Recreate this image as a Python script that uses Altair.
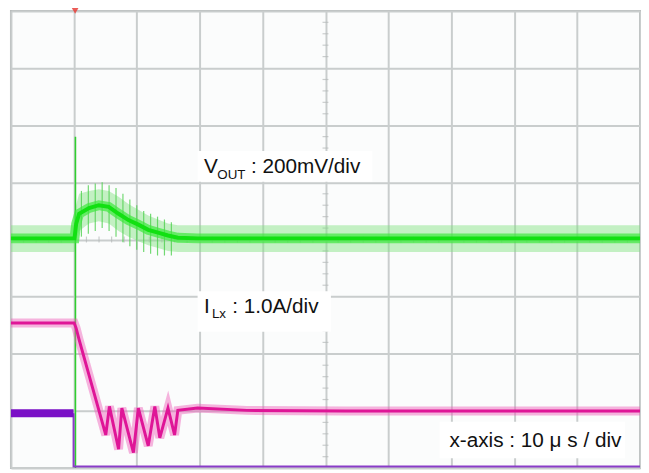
import altair as alt
import pandas as pd

# ---- data (x: time in microseconds, 10 us/div; y: screen divisions 0..8) ----
green_t = [0, 10.1, 10.36, 10.83, 12.4, 13.97, 15.54, 17.11, 18.68, 20.25, 21.82, 23.39, 24.96, 26.53, 29.7, 100]
green_v = [4.02, 4.02, 4.27, 4.45, 4.55, 4.60, 4.57, 4.45, 4.34, 4.26, 4.17, 4.12, 4.07, 4.03, 4.02, 4.02]
green_hi = [4.25, 4.25, 4.60, 4.80, 4.85, 4.88, 4.85, 4.75, 4.62, 4.52, 4.42, 4.35, 4.28, 4.25, 4.25, 4.25]
green_lo = [3.78, 3.78, 4.00, 4.15, 4.28, 4.32, 4.28, 4.15, 4.05, 3.97, 3.90, 3.85, 3.80, 3.78, 3.78, 3.78]
spike_t = [10.25]
spike_top = [5.8]
# ringing spikes on VOUT after the load step
ring_t = [11.2, 12.3, 13.4, 14.5, 15.6, 16.7, 17.8, 18.9, 20.0, 21.1, 22.2, 23.3, 24.4, 25.5]
ring_hi = [4.85, 4.95, 4.98, 5.0, 4.95, 4.9, 4.8, 4.7, 4.6, 4.5, 4.45, 4.4, 4.35, 4.3]
ring_lo = [4.05, 4.1, 4.15, 4.2, 4.15, 4.05, 3.95, 3.88, 3.82, 3.78, 3.75, 3.72, 3.72, 3.72]

mag_t = [0, 10.05, 10.36, 10.83, 15.07, 15.65, 17.11, 17.63, 19.47, 20.25, 21.82, 22.87, 23.66, 24.96, 26.01, 26.53, 29.67, 37.5, 53.2, 68.9, 100]
mag_v = [2.54, 2.54, 2.45, 2.25, 0.58, 1.08, 0.33, 1.05, 0.27, 1.05, 0.39, 1.08, 0.53, 1.05, 0.58, 1.01, 1.05, 1.01, 1.00, 1.00, 1.00]

purple_pre_t = [0, 9.95]
purple_pre_v = [0.96, 0.96]
purple_post_t = [9.95, 9.95, 100]
purple_post_v = [0.96, 0.03, 0.03]

trig_t = [10.2]
grid_x = list(range(0, 101, 10))
grid_y = list(range(0, 9))
center_ticks_y = [i / 5 for i in range(1, 40) if i % 5 != 0]
center_ticks_x = [i * 2 for i in range(1, 50) if i % 5 != 0]

label_v_main = "V"
label_v_sub = "OUT"
label_v_rest = ": 200mV/div"
label_i_main = "I"
label_i_sub = "Lx"
label_i_rest = ": 1.0A/div"
label_x = "x-axis : 10 \u03bc s / div"

# ---- chart ----
W, H = 637, 463
xs = alt.Scale(domain=[0, 100], nice=False, zero=False)
ys = alt.Scale(domain=[0, 8], nice=False, zero=False)
xax = alt.Axis(values=grid_x, grid=True, labels=False, ticks=False, domain=False, title=None,
               gridColor="#c9cdcd", gridWidth=2)
yax = alt.Axis(values=grid_y, grid=True, labels=False, ticks=False, domain=False, title=None,
               gridColor="#c9cdcd", gridWidth=2)

def X(f="t"):
    return alt.X(f"{f}:Q", scale=xs, axis=xax)

def Y(f="v"):
    return alt.Y(f"{f}:Q", scale=ys, axis=yax)

dg = pd.DataFrame({"t": green_t, "v": green_v, "lo": green_lo, "hi": green_hi})
dring = pd.DataFrame({"t": ring_t, "lo": ring_lo, "hi": ring_hi})
dm = pd.DataFrame({"t": mag_t, "v": mag_v})
dp1 = pd.DataFrame({"t": purple_pre_t, "v": purple_pre_v})
dp2 = pd.DataFrame({"t": purple_post_t, "v": purple_post_v})
dspike = pd.DataFrame({"t": spike_t, "top": spike_top, "bot": [0]})
dtrig = pd.DataFrame({"t": trig_t, "v": [8]})
dcy = pd.DataFrame({"t": [50] * len(center_ticks_y), "v": center_ticks_y})
dcx = pd.DataFrame({"t": center_ticks_x, "v": [4] * len(center_ticks_x)})
one = pd.DataFrame({"a": [0]})

layers = []
layers.append(alt.Chart(dcy).mark_tick(orient="horizontal", size=6, thickness=1.2, color="#b5b9b9").encode(x=X(), y=Y()))
layers.append(alt.Chart(dcx).mark_tick(orient="vertical", size=6, thickness=1.2, color="#b5b9b9").encode(x=X(), y=Y()))

# green (VOUT)
layers.append(alt.Chart(dg).mark_area(color="#7ee27e", opacity=0.45).encode(x=X(), y=Y("lo"), y2="hi:Q"))
layers.append(alt.Chart(dring).mark_rule(color="#4fcf4f", strokeWidth=1.2, opacity=0.8).encode(x=X(), y=Y("lo"), y2="hi:Q"))
layers.append(alt.Chart(dspike).mark_rule(color="#2fcf2f", strokeWidth=1.6).encode(x=X(), y=Y("bot"), y2="top:Q"))
layers.append(alt.Chart(dg).mark_line(color="#3de83d", strokeWidth=10, opacity=0.7).encode(x=X(), y=Y()))
layers.append(alt.Chart(dg).mark_line(color="#12e012", strokeWidth=4).encode(x=X(), y=Y()))

# magenta (ILx)
layers.append(alt.Chart(dm).mark_line(color="#ee5cb9", strokeWidth=9, opacity=0.45, strokeJoin="miter").encode(x=X(), y=Y()))
layers.append(alt.Chart(dm).mark_line(color="#df1597", strokeWidth=3).encode(x=X(), y=Y()))

# purple
layers.append(alt.Chart(dp2).mark_line(color="#8a3cc8", strokeWidth=2).encode(x=X(), y=Y()))
layers.append(alt.Chart(dp1).mark_line(color="#7a10c6", strokeWidth=8).encode(x=X(), y=Y()))

# trigger marker
layers.append(alt.Chart(dtrig).mark_point(shape="triangle-down", filled=True, size=45, color="#e8403a", opacity=0.85).encode(x=X(), y=Y()))

# label boxes
def box(x1, x2, y1, y2):
    return alt.Chart(one).mark_rect(color="white").encode(
        x=alt.value(x1), x2=alt.value(x2), y=alt.value(y1), y2=alt.value(y2))

def txt(s, x, y, size):
    return alt.Chart(pd.DataFrame({"s": [s]})).mark_text(
        align="left", baseline="alphabetic", font="Liberation Sans", fontSize=size, color="#111111"
    ).encode(text="s:N", x=alt.value(x), y=alt.value(y))

layers.append(box(189, 366, 142, 173))
layers.append(box(189, 324, 284, 325))
layers.append(box(434, 622, 416, 453))

layers.append(txt(label_v_main, 195.5, 164.5, 21))
layers.append(txt(label_v_sub, 209, 170.5, 13.5))
layers.append(txt(label_v_rest, 243, 164.5, 21))
layers.append(txt(label_i_main, 195.5, 306, 21))
layers.append(txt(label_i_sub, 203.5, 310.5, 13.5))
layers.append(txt(label_i_rest, 224, 306, 21))
layers.append(txt(label_x, 444, 441.5, 21))

chart = alt.layer(*layers).properties(
    width=W, height=H,
    autosize=alt.AutoSizeParams(type="none"),
    padding={"left": 3, "top": 0, "right": 1, "bottom": 1},
    background="white",
).configure_view(stroke="#b7bbbb", strokeWidth=2, fill="#fbfcfc")

chart.save("out.html", embed_options={"renderer": "svg", "actions": False})
